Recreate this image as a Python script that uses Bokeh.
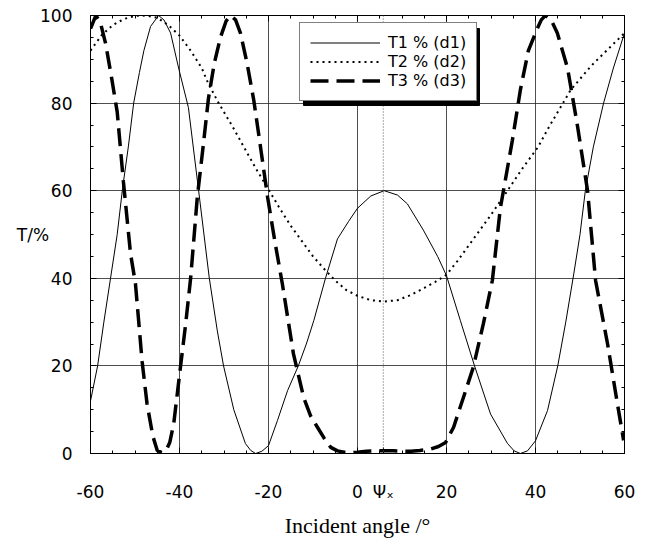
from bokeh.plotting import figure
from bokeh.models import Range1d, FixedTicker, LinearAxis, Legend, LegendItem, Span, BoxAnnotation
from bokeh.embed import file_html
from bokeh.resources import INLINE

# ---- data ----
t1_x = [-60, -58.4, -57, -55.5, -54, -52.8, -51.5, -50.3, -49, -48, -46.5, -44.7, -43.5, -42, -40.2, -38,
        -35.7, -33.3, -31.5, -30.1, -27.8, -25.2, -24, -22.9, -21.5, -20, -18, -15.7, -13.3, -11.5, -9.8,
        -7.2, -4.5, -2, 0, 3, 6, 9, 11.2, 14.8, 18, 20, 23.1, 26.3, 29.9, 33.7, 35.2, 36.6, 38.2, 40, 42.7,
        45, 46.8, 48.6, 50, 51.2, 53, 55.3, 57.5, 60]
t1_y = [12, 20, 30, 40, 50, 60.5, 70, 80, 87, 92, 97.5, 100, 99, 96, 88, 79,
        60, 40, 28, 20, 10, 2.3, 0.7, 0, 0.5, 1.8, 7.5, 14.4, 20, 25, 30.4,
        40, 49, 53, 56, 58.8, 60, 59, 57, 51, 45, 40.6, 30.4, 20, 9, 2.3, 0.6, 0, 0.6, 2.9, 9.8,
        20, 30, 41, 50, 60, 70, 80, 88, 96]

t2_x = [-60, -57.5, -55, -52.5, -50, -47.5, -45, -42.5, -40, -37.5, -35, -33.5, -31.2, -28, -25, -22.5,
        -20, -17.5, -15, -12.5, -10, -7.2, -5, -2.5, 0, 3, 6, 9, 12, 15, 17.5, 20, 22.5, 25, 27.5, 30,
        33.7, 37, 40.6, 43, 45.6, 47.9, 50, 52.5, 55, 57.5, 60]
t2_y = [92, 95.5, 97.8, 99.2, 99.9, 100, 99.5, 97.8, 95.4, 92, 88, 84.4, 80, 74.5, 69, 64.5,
        60.3, 56, 52, 48.5, 45, 41.8, 39.5, 37.3, 36, 35, 34.7, 35, 36.2, 37.8, 39.2, 40.8, 44, 47.5, 51, 54.5,
        60, 65, 70, 74.5, 79, 83, 85.5, 88.5, 91, 93.5, 96]

t3_x = [-60, -58.8, -57.8, -56.6, -55.3, -54, -52.6, -51, -49.9, -48.4, -47.3, -46, -45, -44, -43, -42.2,
        -41.3, -39.8, -38.6, -37.5, -36, -34.7, -33.5, -32.2, -30.8, -29.5, -28.5, -27.4, -26.3, -24.8,
        -23.3, -21.8, -20.2, -18.5, -16.9, -14.4, -12.1, -10.5, -9, -7.5, -6, -4.5, -3, -1.5, 0, 2, 4, 6,
        8, 10, 12, 14, 16.4, 18.2, 19.8, 21.6, 23.8, 26, 28.3, 30.3, 32.1, 34.8, 36.6, 38.4, 40.4, 41.3,
        42.2, 43.5, 44.9, 47.2, 49.4, 51.7, 53.5, 56.2, 58.4, 59.8]
t3_y = [97, 100, 98.5, 93.6, 86, 78, 62, 45.6, 38.8, 21, 11.4, 4, 0.7, 0.2, 0.7, 2.5,
        6.8, 19.6, 29.7, 40, 58.5, 70, 81, 89, 95, 98.8, 100, 99, 96, 89,
        80.6, 70, 58.5, 48, 38.8, 22.8, 12.8, 8.5, 6, 3.5, 1.4, 0.6, 0.3, 0.2, 0.3, 0.5, 0.6, 0.6,
        0.6, 0.5, 0.5, 0.7, 1, 1.6, 2.5, 6, 12.8, 19.6, 29.7, 39.5, 56, 71.5, 83, 92, 97, 99,
        100, 99, 96, 88, 75, 60, 39.5, 25, 11.4, 3]

labels = ["T1 % (d1)", "T2 % (d2)", "T3 % (d3)"]
x_ticks = [-60, -40, -20, 0, 20, 40, 60]
x_minor = [v for v in range(-60, 61, 5)]
y_ticks = [0, 20, 40, 60, 80, 100]
y_minor = [v for v in range(0, 101, 5)]
psi_x = 5.8
psi_label = "Ψₓ"

SANS = "DejaVu Sans"
SERIF = "Liberation Serif"

p = figure(frame_width=534, frame_height=438, output_backend="svg", toolbar_location=None,
           x_range=Range1d(-60, 60), y_range=Range1d(0, 100),
           min_border_left=90, min_border_right=21, min_border_top=15, min_border_bottom=80)
p.background_fill_color = "white"
p.border_fill_color = "white"
p.outline_line_color = "black"
p.outline_line_width = 1

# axes
xt = FixedTicker(ticks=x_ticks + [psi_x], minor_ticks=x_minor)
yt = FixedTicker(ticks=y_ticks, minor_ticks=y_minor)
for ax in p.xaxis:
    ax.ticker = xt
for ax in p.yaxis:
    ax.ticker = yt

for ax in list(p.xaxis) + list(p.yaxis):
    ax.major_tick_in = 6
    ax.major_tick_out = 0
    ax.minor_tick_in = 3
    ax.minor_tick_out = 0
    ax.axis_line_color = "black"
    ax.major_tick_line_color = "black"
    ax.minor_tick_line_color = "black"
    ax.major_label_text_font = SANS
    ax.major_label_text_font_size = "17px"
    ax.major_label_text_color = "black"

overrides = {v: str(v) for v in x_ticks}
overrides[psi_x] = psi_label
p.xaxis.major_label_overrides = overrides
p.xaxis.major_label_standoff = 28
p.yaxis.major_label_standoff = 18
p.xaxis.axis_label = "Incident angle /°"
p.xaxis.axis_label_text_font = SERIF
p.xaxis.axis_label_text_font_style = "normal"
p.xaxis.axis_label_text_font_size = "22px"
p.xaxis.axis_label_text_color = "black"
p.xaxis.axis_label_standoff = 8

p.yaxis.axis_label = "T/%"
p.yaxis.axis_label_orientation = "horizontal"
p.yaxis.axis_label_text_font = SANS
p.yaxis.axis_label_text_font_style = "normal"
p.yaxis.axis_label_text_font_size = "17px"
p.yaxis.axis_label_text_color = "black"
p.yaxis.axis_label_standoff = -12

for loc, tk in (("above", FixedTicker(ticks=x_ticks, minor_ticks=x_minor)), ("right", yt)):
    a = LinearAxis(ticker=tk, major_tick_in=6, major_tick_out=0, minor_tick_in=3, minor_tick_out=0,
                   major_label_text_font_size="1px", major_label_text_alpha=0, major_label_standoff=0,
                   axis_line_color="black")
    p.add_layout(a, loc)

# grid
p.xgrid.ticker = FixedTicker(ticks=[-40, -20, 0, 20, 40])
p.ygrid.ticker = FixedTicker(ticks=[20, 40, 60, 80])
p.xgrid.grid_line_color = "#222222"
p.ygrid.grid_line_color = "#222222"
p.xgrid.grid_line_width = 0.8
p.ygrid.grid_line_width = 0.8

p.add_layout(Span(location=psi_x, dimension="height", line_color="#555555",
                  line_dash="1 2", line_width=1))

# curves
r1 = p.line(t1_x, t1_y, line_color="black", line_width=1)
r2 = p.line(t2_x, t2_y, line_color="black", line_width=2, line_dash="2 4")
r3 = p.line(t3_x, t3_y, line_color="black", line_width=3.5, line_dash="18 8")

LEG_X, LEG_Y, LEG_W, LEG_H = 209, 352, 176, 77
# legend drop shadow
p.add_layout(BoxAnnotation(left=LEG_X + 4, right=LEG_X + LEG_W + 4, bottom=LEG_Y - 4, top=LEG_Y + LEG_H - 4,
                           left_units="screen", right_units="screen", bottom_units="screen", top_units="screen",
                           fill_color="black", fill_alpha=1, line_color="black", line_alpha=1))

items = [LegendItem(label=l, renderers=[r]) for l, r in zip(labels, [r1, r2, r3])]
lg = Legend(items=items, location=(LEG_X, LEG_Y), orientation="vertical",
            label_text_font=SANS, label_text_font_size="16px",
            label_text_color="black", glyph_width=70, glyph_height=19,
            label_height=19, label_standoff=8, padding=10, spacing=0,
            margin=0, border_line_color="black", border_line_width=1.5,
            background_fill_color="white", background_fill_alpha=1)
p.add_layout(lg)

open("out.html", "w").write(file_html(p, INLINE))
